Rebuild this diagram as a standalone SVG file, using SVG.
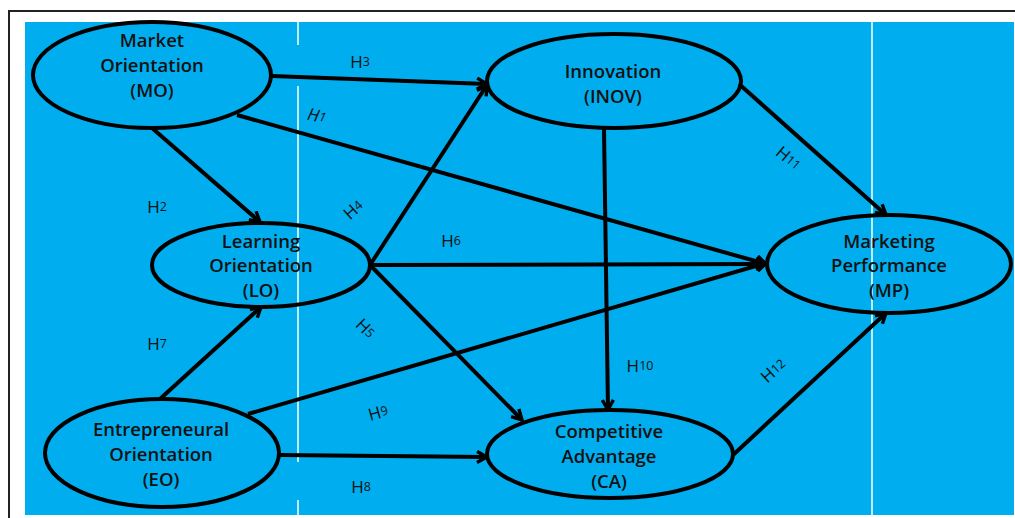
<svg xmlns="http://www.w3.org/2000/svg" width="1015" height="518" viewBox="0 0 1015 518">
<style>
.node ellipse{fill:none;stroke:#000;stroke-width:4}
.node text{font-family:"Open Sans","Liberation Sans",sans-serif;font-weight:600;font-size:18.5px;fill:#111;text-anchor:middle}
.conn line{stroke:#000;stroke-width:4;marker-end:url(#arr)}
.lbl{font-family:"Open Sans","Liberation Sans",sans-serif;font-size:17px;fill:#111;text-anchor:middle;dominant-baseline:central}
.sub{font-size:12.5px}
.wl{stroke:#fff;stroke-width:1.5}
</style>
<defs>
<marker id="arr" viewBox="0 0 14 14" refX="12" refY="7" markerWidth="14" markerHeight="14" markerUnits="userSpaceOnUse" orient="auto">
<path d="M2,1.5 L12,7 L2,12.5" fill="none" stroke="#000" stroke-width="3.4" stroke-linejoin="miter"/>
</marker>
</defs>
<rect x="0" y="0" width="1015" height="518" fill="#fff"/>
<line x1="8" y1="11" x2="1015" y2="11" stroke="#222" stroke-width="2"/>
<line x1="9" y1="11" x2="9" y2="518" stroke="#222" stroke-width="2"/>
<rect x="25" y="22" width="989" height="493" fill="#00AEEF"/>
<g id="gridlines">
<line class="wl" x1="298" y1="22" x2="298" y2="45"/>
<line class="wl" x1="298" y1="86" x2="298" y2="462"/>
<line class="wl" x1="298" y1="500" x2="298" y2="515"/>
<line class="wl" x1="872" y1="22" x2="872" y2="515"/>
</g>
<g id="MO" class="node">
<ellipse cx="152" cy="75" rx="119" ry="53"/>
<text x="152" y="47">Market</text>
<text x="152" y="72">Orientation</text>
<text x="152" y="97">(MO)</text>
</g>
<g id="INOV" class="node">
<ellipse cx="614" cy="81" rx="127" ry="47"/>
<text x="613" y="78">Innovation</text>
<text x="613" y="103">(INOV)</text>
</g>
<g id="LO" class="node">
<ellipse cx="261" cy="265" rx="109" ry="42"/>
<text x="261" y="248">Learning</text>
<text x="261" y="272">Orientation</text>
<text x="261" y="297">(LO)</text>
</g>
<g id="MP" class="node">
<ellipse cx="889" cy="264" rx="122" ry="49"/>
<text x="889" y="248">Marketing</text>
<text x="889" y="272">Performance</text>
<text x="889" y="297">(MP)</text>
</g>
<g id="EO" class="node">
<ellipse cx="162" cy="453" rx="117" ry="54"/>
<text x="161" y="436">Entrepreneural</text>
<text x="161" y="461">Orientation</text>
<text x="161" y="486">(EO)</text>
</g>
<g id="CA" class="node">
<ellipse cx="610" cy="454" rx="123" ry="44"/>
<text x="609" y="438">Competitive</text>
<text x="609" y="463">Advantage</text>
<text x="609" y="488">(CA)</text>
</g>
<g id="connectors" class="conn">
<line x1="272" y1="76" x2="487" y2="84"/>
<line x1="237" y1="115" x2="766" y2="264"/>
<line x1="152" y1="128" x2="260" y2="222"/>
<line x1="370" y1="265" x2="487" y2="85"/>
<line x1="370" y1="265" x2="766" y2="264"/>
<line x1="370" y1="265" x2="522" y2="420"/>
<line x1="160" y1="399" x2="261" y2="307"/>
<line x1="248" y1="414" x2="766" y2="263"/>
<line x1="280" y1="455" x2="487" y2="457"/>
<line x1="604" y1="128" x2="608" y2="410"/>
<line x1="739" y1="84" x2="886" y2="215"/>
<line x1="733" y1="455" x2="886" y2="313"/>
</g>
<g id="labels">
<text class="lbl" x="360" y="61">H<tspan class="sub">3</tspan></text>
<text class="lbl" transform="translate(317,115) rotate(12)" font-style="italic">H<tspan class="sub">1</tspan></text>
<text class="lbl" x="157" y="206">H<tspan class="sub">2</tspan></text>
<text class="lbl" transform="translate(353,209) rotate(-42)">H<tspan class="sub">4</tspan></text>
<text class="lbl" x="451" y="240">H<tspan class="sub">6</tspan></text>
<text class="lbl" transform="translate(366,328) rotate(45)">H<tspan class="sub">5</tspan></text>
<text class="lbl" x="157" y="343">H<tspan class="sub">7</tspan></text>
<text class="lbl" x="640" y="365">H<tspan class="sub">10</tspan></text>
<text class="lbl" transform="translate(378,412) rotate(-16)">H<tspan class="sub">9</tspan></text>
<text class="lbl" x="361" y="486">H<tspan class="sub">8</tspan></text>
<text class="lbl" transform="translate(789,158) rotate(40)">H<tspan class="sub">11</tspan></text>
<text class="lbl" transform="translate(773,370) rotate(-42)">H<tspan class="sub">12</tspan></text>
</g>
</svg>
